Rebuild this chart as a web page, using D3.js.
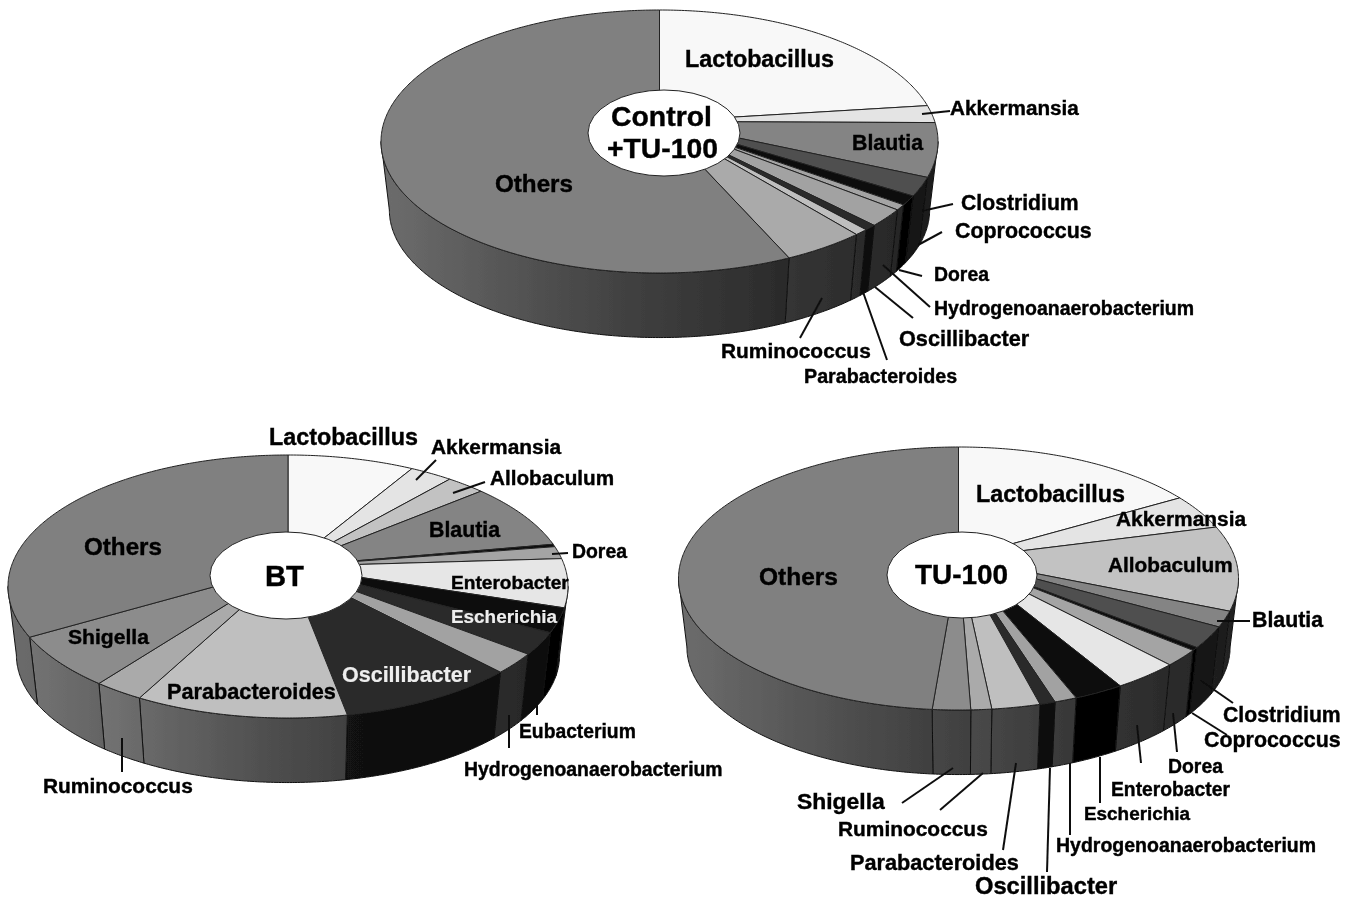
<!DOCTYPE html>
<html lang="en">
<head>
    <meta charset="UTF-8">
    <title>Genus composition pies</title>
    <script src="https://d3js.org/d3.v7.min.js"></script>
    <style>
        body { margin: 0; background: #fff; }
        text { font-family: "Liberation Sans", Arial, sans-serif; font-weight: bold; }
    </style>
</head>
<body>
<svg width="1353" height="900"></svg>

<script>
    // slice shares in percent
    var genusControl = ["Lactobacillus", "Akkermansia", "Blautia", "Clostridium", "Coprococcus", "Dorea",
        "Hydrogenoanaerobacterium", "Oscillibacter", "Parabacteroides", "Ruminococcus", "Others"];
    var valuesControl = [20.6, 2.1, 6.7, 2.4, 1.2, 0.7, 2.3, 0.7, 0.8, 4.8, 57.7];

    var genusBT = ["Lactobacillus", "Akkermansia", "Allobaculum", "Blautia", "Coprococcus", "Dorea", "Enterobacter",
        "Escherichia", "Eubacterium", "Hydrogenoanaerobacterium", "Oscillibacter", "Parabacteroides",
        "Ruminococcus", "Shigella", "Others"];
    var valuesBT = [7.3, 2.5, 2.3, 7.7, 0.3, 1.5, 6.0, 3.1, 2.9, 2.7, 10.3, 12.3, 2.9, 6.9, 31.3];

    var genusTU = ["Lactobacillus", "Akkermansia", "Allobaculum", "Blautia", "Clostridium", "Coprococcus", "Dorea",
        "Enterobacter", "Escherichia", "Hydrogenoanaerobacterium", "Oscillibacter", "Parabacteroides",
        "Ruminococcus", "Shigella", "Others"];
    var valuesTU = [14.5, 4.1, 10.4, 2.0, 2.8, 0.4, 2.2, 3.8, 2.9, 1.3, 0.9, 2.8, 1.2, 2.2, 48.5];

    var genusColors = {
        Lactobacillus: "#f8f8f8", Akkermansia: "#e4e4e4", Allobaculum: "#c2c2c2", Blautia: "#848484",
        Clostridium: "#505050", Coprococcus: "#0a0a0a", Dorea: "#a4a4a4", Enterobacter: "#e6e6e6",
        Escherichia: "#0b0b0b", Eubacterium: "#2a2a2a", Hydrogenoanaerobacterium: "#a2a2a2",
        Oscillibacter: "#2c2c2c", Parabacteroides: "#bfbfbf", Ruminococcus: "#aaaaaa", Shigella: "#8c8c8c",
        Others: "#808080"
    };

    // label layout: text, left, right, middle y, colour
    var labelsControl = [
        ["Lactobacillus", 685, 834, 59], ["Akkermansia", 950, 1079, 107], ["Blautia", 852, 923, 143],
        ["Others", 495, 573, 183], ["Clostridium", 961, 1079, 202], ["Coprococcus", 955, 1092, 231],
        ["Dorea", 934, 989, 274], ["Hydrogenoanaerobacterium", 934, 1194, 308], ["Oscillibacter", 899, 1029, 338],
        ["Ruminococcus", 721, 871, 350], ["Parabacteroides", 804, 957, 376],
        ["Control", 611, 712, 116], ["+TU-100", 607, 718, 148]
    ];
    var labelsBT = [
        ["Lactobacillus", 269, 418, 437], ["Akkermansia", 431, 561, 446], ["Allobaculum", 490, 614, 477],
        ["Blautia", 429, 500, 530], ["Dorea", 572, 627, 551], ["Enterobacter", 451, 569, 582],
        ["Escherichia", 451, 557, 616, "#eeeeee"], ["Oscillibacter", 342, 471, 675, "#eeeeee"],
        ["Others", 84, 162, 546], ["Shigella", 68, 149, 636], ["Parabacteroides", 167, 336, 691],
        ["Eubacterium", 519, 636, 731], ["Hydrogenoanaerobacterium", 464, 723, 769], ["Ruminococcus", 43, 193, 785],
        ["BT", 265, 304, 576]
    ];
    var labelsTU = [
        ["Lactobacillus", 976, 1125, 494], ["Akkermansia", 1116, 1246, 518], ["Allobaculum", 1108, 1233, 564],
        ["Blautia", 1252, 1323, 620], ["Others", 759, 838, 576], ["TU-100", 915, 1008, 574],
        ["Clostridium", 1223, 1341, 714], ["Coprococcus", 1204, 1341, 740], ["Dorea", 1168, 1223, 766],
        ["Enterobacter", 1111, 1230, 789], ["Escherichia", 1084, 1190, 813],
        ["Hydrogenoanaerobacterium", 1056, 1316, 845], ["Shigella", 797, 885, 801], ["Ruminococcus", 838, 988, 828],
        ["Parabacteroides", 850, 1019, 862], ["Oscillibacter", 975, 1117, 886]
    ];

    // leader lines, x1 y1 x2 y2
    var leadersControl = [
        [922, 114, 950, 111], [922, 211, 953, 204], [918, 245, 942, 232], [899, 270, 922, 276],
        [883, 265, 930, 307], [875, 287, 913, 318], [863, 292, 887, 360], [822, 298, 800, 338]
    ];
    var leadersBT = [
        [416, 480, 436, 460], [453, 493, 485, 482], [552, 554, 568, 553], [537, 690, 537, 715],
        [509, 715, 509, 748], [122, 738, 122, 772]
    ];
    var leadersTU = [
        [1217, 621, 1250, 621], [1200, 680, 1233, 703], [1192, 713, 1227, 735], [1173, 713, 1177, 752],
        [1137, 725, 1141, 763], [1100, 757, 1100, 803], [1070, 763, 1070, 835], [1050, 768, 1047, 872],
        [1016, 763, 1003, 850], [983, 773, 940, 810], [953, 768, 902, 803]
    ];

    // brightness of the side wall going left to right over the pie
    var sideShade = [[0, 0.85], [0.25, 0.65], [0.45, 0.5], [0.75, 0.32], [1, 0.22]];
    var sideMax = 160; // light slices do not get much brighter than this on the wall

    var svg = d3.select("svg");
    var defs = svg.append("defs");
    var gradientCount = 0;

    // the figure is a slightly soft scan
    defs.append("filter")
        .attr("id", "soft")
        .attr("x", "-5%").attr("y", "-5%").attr("width", "110%").attr("height", "110%")
        .append("feGaussianBlur")
        .attr("stdDeviation", 0.5);

    var pie = d3.pie().sort(null);
    var line = d3.line();

    function rimPoints(sx, sy, a0, a1) {
        var n = Math.max(2, Math.ceil((a1 - a0) / 0.01));
        return d3.range(n + 1).map(function (i) {
            var a = a0 + (a1 - a0) * i / n;
            return [sx(Math.sin(a)), sy(-Math.cos(a))];
        });
    }

    function sideGradient(color, x0, x1) {
        var id = "side" + (gradientCount++);
        var grey = Math.min(d3.rgb(color).r, sideMax);
        var grad = defs.append("linearGradient")
            .attr("id", id)
            .attr("gradientUnits", "userSpaceOnUse")
            .attr("x1", x0).attr("x2", x1).attr("y1", 0).attr("y2", 0);
        sideShade.forEach(function (s) {
            var v = grey * s[1];
            grad.append("stop").attr("offset", s[0]).attr("stop-color", d3.rgb(v, v, v).formatHex());
        });
        return "url(#" + id + ")";
    }

    function drawPie(genus, values, o) {
        var g = svg.append("g").attr("filter", "url(#soft)");
        var x = d3.scaleLinear().domain([-1, 1]).range([o.cx - o.rx, o.cx + o.rx]);
        var y = d3.scaleLinear().domain([-1, 1]).range([o.cy - o.ry, o.cy + o.ry]);
        // lower rim sits further away from the camera so it is a bit narrower
        var xLow = d3.scaleLinear().domain([-1, 1]).range([o.cx - o.rx * 0.97, o.cx + o.rx * 0.97]);
        var yLow = d3.scaleLinear().domain([-1, 1]).range([o.cy + o.depth - o.ry * 0.97, o.cy + o.depth + o.ry * 0.97]);
        var apex = [o.cx, o.cy - 20];
        var arcs = pie(values);

        g.selectAll("path.side")
            .data(arcs.filter(function (d) {
                return d.endAngle > Math.PI / 2 && d.startAngle < Math.PI * 1.5;
            }))
            .enter().append("path")
            .attr("class", "side")
            .attr("d", function (d) {
                var a0 = Math.max(d.startAngle, Math.PI / 2);
                var a1 = Math.min(d.endAngle, Math.PI * 1.5);
                return line(rimPoints(x, y, a0, a1).concat(rimPoints(xLow, yLow, a0, a1).reverse())) + "Z";
            })
            .attr("fill", function (d) {
                return sideGradient(genusColors[genus[d.index]], o.cx - o.rx, o.cx + o.rx);
            })
            .attr("stroke", "#111")
            .attr("stroke-width", 1);

        g.selectAll("path.top")
            .data(arcs)
            .enter().append("path")
            .attr("class", "top")
            .attr("d", function (d) {
                return line([apex].concat(rimPoints(x, y, d.startAngle, d.endAngle))) + "Z";
            })
            .attr("fill", function (d) { return genusColors[genus[d.index]]; })
            .attr("stroke", "#222")
            .attr("stroke-width", 1);

        g.append("ellipse")
            .attr("cx", o.holeX).attr("cy", o.holeY)
            .attr("rx", o.holeRx).attr("ry", o.holeRy)
            .attr("fill", "#fff")
            .attr("stroke", "#222")
            .attr("stroke-width", 1);

        g.selectAll("line")
            .data(o.leaders)
            .enter().append("line")
            .attr("x1", function (d) { return d[0]; })
            .attr("y1", function (d) { return d[1]; })
            .attr("x2", function (d) { return d[2]; })
            .attr("y2", function (d) { return d[3]; })
            .attr("stroke", "#111")
            .attr("stroke-width", 2);

        g.selectAll("text")
            .data(o.labels)
            .enter().append("text")
            .attr("x", function (d) { return d[1]; })
            .attr("y", function (d) { return d[3]; })
            .attr("dominant-baseline", "central")
            .attr("fill", function (d) { return d[4] || "#000"; })
            .attr("stroke", function (d) { return d[4] || "#000"; })
            .attr("stroke-width", function (d) { return d[4] ? 0.2 : 0.4; })
            .attr("font-size", 20)
            .text(function (d) { return d[0]; })
            .each(function (d) {
                // fit each label to the width it has in the figure
                var size = 20 * (d[2] - d[1]) / this.getComputedTextLength();
                d3.select(this).attr("font-size", size.toFixed(1));
            });
    }

    drawPie(genusControl, valuesControl, {
        cx: 659.5, cy: 141.5, rx: 278.5, ry: 131.5, depth: 68.5,
        holeX: 664, holeY: 133, holeRx: 76, holeRy: 43,
        labels: labelsControl, leaders: leadersControl
    });
    drawPie(genusBT, valuesBT, {
        cx: 288, cy: 586.5, rx: 280, ry: 131.5, depth: 68.5,
        holeX: 286, holeY: 575.5, holeRx: 76, holeRy: 43.5,
        labels: labelsBT, leaders: leadersBT
    });
    drawPie(genusTU, valuesTU, {
        cx: 958.5, cy: 578.5, rx: 280, ry: 131.5, depth: 68.5,
        holeX: 962, holeY: 575, holeRx: 75, holeRy: 43,
        labels: labelsTU, leaders: leadersTU
    });
</script>

</body>
</html>
